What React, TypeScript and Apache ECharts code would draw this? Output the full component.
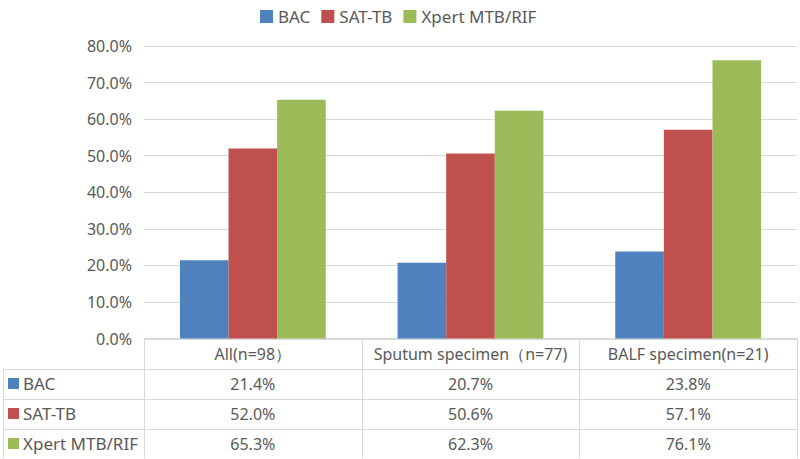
import React, { useEffect, useRef } from "react";
import * as echarts from "echarts";

const categories = ["All(n=98）", "Sputum specimen（n=77)", "BALF specimen(n=21)"];
const seriesNames = ["BAC", "SAT-TB", "Xpert MTB/RIF"];
const bacValues = [21.4, 20.7, 23.8];
const satValues = [52.0, 50.6, 57.1];
const xpertValues = [65.3, 62.3, 76.1];
const colors = ["#4F81BD", "#C0504D", "#9BBB59"];
const yMin = 0;
const yMax = 80;
const yInterval = 10;

const FONT = "'Noto Sans', 'Open Sans', sans-serif";
const TEXT = "#595959";
const LINE = "#D9D9D9";

export default function App() {
  const ref = useRef<HTMLDivElement>(null);
  useEffect(() => {
    if (!ref.current) return;
    const chart = echarts.init(ref.current, null, { renderer: "svg" });
    const allValues = [bacValues, satValues, xpertValues];

    const W = 800;
    const gridLeft = 144;
    const gridRight = 3;
    const gridTop = 46;
    const gridBottom = 120.5;
    const plotRight = W - gridRight;
    const tableTop = 459 - gridBottom;
    const rowH = 30;
    const tableLeft = 3;
    const colW = (plotRight - gridLeft) / categories.length;
    const px = (v: number) => Math.round(v) + 0.5;

    const graphics: any[] = [];
    const lineStyle = { stroke: LINE, lineWidth: 1 };
    const tableBottom = tableTop + rowH * (seriesNames.length + 1);
    graphics.push({ type: "line", shape: { x1: gridLeft, y1: px(tableTop), x2: plotRight, y2: px(tableTop) }, style: lineStyle, silent: true });
    for (let r = 1; r <= seriesNames.length + 1; r++) {
      const y = px(tableTop + rowH * r);
      graphics.push({ type: "line", shape: { x1: tableLeft, y1: y, x2: plotRight, y2: y }, style: lineStyle, silent: true });
    }
    graphics.push({ type: "line", shape: { x1: px(tableLeft), y1: tableTop + rowH, x2: px(tableLeft), y2: tableBottom }, style: lineStyle, silent: true });
    for (let c = 0; c <= categories.length; c++) {
      const x = px(gridLeft + colW * c);
      graphics.push({ type: "line", shape: { x1: x, y1: tableTop, x2: x, y2: tableBottom }, style: lineStyle, silent: true });
    }
    categories.forEach((cat, c) => {
      graphics.push({
        type: "text",
        x: gridLeft + colW * (c + 0.5),
        y: tableTop + rowH / 2,
        style: { text: cat, fill: TEXT, font: `16px ${FONT}`, align: "center", verticalAlign: "middle" },
        silent: true,
      });
    });
    seriesNames.forEach((name, r) => {
      const cy = tableTop + rowH * (r + 1) + rowH / 2;
      graphics.push({ type: "rect", shape: { x: 8, y: cy - 5.5, width: 11, height: 11 }, style: { fill: colors[r] }, silent: true });
      graphics.push({
        type: "text",
        x: 23,
        y: cy,
        style: { text: name, fill: TEXT, font: `17px ${FONT}`, align: "left", verticalAlign: "middle" },
        silent: true,
      });
      allValues[r].forEach((v, c) => {
        graphics.push({
          type: "text",
          x: gridLeft + colW * (c + 0.5),
          y: cy,
          style: { text: v.toFixed(1) + "%", fill: TEXT, font: `16px ${FONT}`, align: "center", verticalAlign: "middle" },
          silent: true,
        });
      });
    });

    chart.setOption({
      animation: false,
      textStyle: { fontFamily: FONT },
      legend: {
        top: 3,
        left: 255,
        itemWidth: 13,
        itemHeight: 13,
        itemGap: 11,
        icon: "rect",
        textStyle: { color: TEXT, fontSize: 17, fontFamily: FONT },
        data: seriesNames,
      },
      grid: { left: gridLeft, right: gridRight, top: gridTop, bottom: gridBottom, containLabel: false },
      xAxis: {
        type: "category",
        data: categories,
        axisLine: { show: false },
        axisTick: { show: false },
        axisLabel: { show: false },
      },
      yAxis: {
        type: "value",
        min: yMin,
        max: yMax,
        interval: yInterval,
        axisLine: { show: false },
        axisTick: { show: false },
        axisLabel: {
          formatter: (v: number) => v.toFixed(1) + "%",
          color: TEXT,
          fontSize: 16,
          fontFamily: FONT,
          margin: 12,
        },
        splitLine: { lineStyle: { color: LINE, width: 1 } },
      },
      series: seriesNames.map((name, i) => ({
        name,
        type: "bar",
        data: allValues[i],
        barGap: "0%",
        barCategoryGap: "33%",
        itemStyle: { color: colors[i] },
      })),
      graphic: graphics,
    });
    return () => chart.dispose();
  }, []);
  return <div ref={ref} style={{ width: 800, height: 459, position: "absolute", left: 0, top: 0 }} />;
}
